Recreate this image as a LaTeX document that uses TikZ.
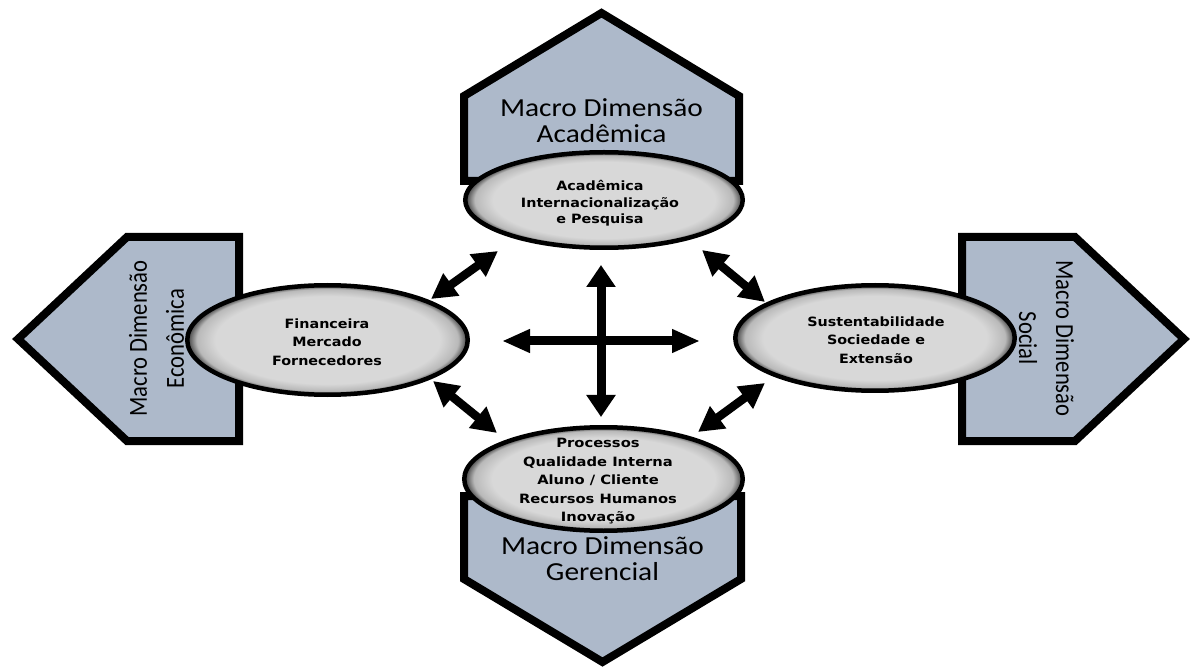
\documentclass[tikz,border=0pt]{standalone}
\usepackage{fontspec}
\usepackage{graphicx}
\setmainfont{Carlito}
\newfontfamily\ellfont{DejaVu Sans}
\usetikzlibrary{arrows.meta,shapes.geometric}
\definecolor{pentafill}{RGB}{173,185,202}
\definecolor{ellA}{RGB}{216,216,216}
\definecolor{ellB}{RGB}{185,185,185}
\definecolor{ellC}{RGB}{60,60,60}
\pgfdeclareradialshading{ellshade}{\pgfpoint{0bp}{0bp}}{color(0bp)=(ellA); color(20bp)=(ellA); color(23.3bp)=(ellB); color(25bp)=(ellC); color(50bp)=(ellC)}
\newcommand{\titletext}[3]{\scalebox{#1}[1]{\fontsize{26pt}{#2}\selectfont\begin{tabular}{@{}c@{}}#3\end{tabular}}}
\newcommand{\elltext}[3]{\scalebox{#1}[1]{\ellfont\bfseries\fontsize{12.8pt}{#2}\selectfont\begin{tabular}{@{}c@{}}#3\end{tabular}}}
\begin{document}
\begin{tikzpicture}[x=1pt,y=-1pt,
  pentastyle/.style={draw=black, line width=8pt, fill=pentafill, line join=miter},
  ell/.style={ellipse, draw=black, line width=4.5pt, shade, shading=ellshade, inner sep=0pt},
  txt/.style={inner sep=0pt, text=black},
  diag/.style={line width=8.5pt, {Triangle[length=25pt,width=26pt]}-{Triangle[length=25pt,width=26pt]}},
  horiz/.style={line width=9pt, {Triangle[length=28pt,width=22pt]}-{Triangle[length=28pt,width=22pt]}},
  vert/.style={line width=9pt, {Triangle[length=22pt,width=28pt]}-{Triangle[length=22pt,width=28pt]}}]
\useasboundingbox (0,0) rectangle (1192,668);
\fill[white] (0,0) rectangle (1192,668);
% pentagons
\draw[pentastyle] (464,181) -- (464,96) -- (601.5,13) -- (739,96) -- (739,181) -- cycle;
\draw[pentastyle] (464,496) -- (741,496) -- (741,579) -- (602.5,662) -- (464,579) -- cycle;
\draw[pentastyle] (239,237) -- (239,441) -- (127,441) -- (18,339) -- (127,237) -- cycle;
\draw[pentastyle] (962,237) -- (1075,237) -- (1184,339) -- (1075,441) -- (962,441) -- cycle;
% titles
\node[txt] (tA) at (601.5,124.5) {\titletext{1.13}{25pt}{Macro Dimensão\\Acadêmica}};
\node[txt] (tG) at (602.5,562.5) {\titletext{1.13}{25pt}{Macro Dimensão\\Gerencial}};
\node[txt, rotate=90] (tE) at (158,338.5) {\titletext{0.87}{37pt}{Macro Dimensão\\Econômica}};
\node[txt, rotate=-90] (tS) at (1045,338.5) {\titletext{0.87}{37pt}{Macro Dimensão\\Social}};
% ellipses
\node[ell, minimum width=277.5pt, minimum height=95.5pt] (eA) at (604,200) {};
\node[ell, minimum width=280.5pt, minimum height=109.5pt] (eE) at (327.5,340) {};
\node[ell, minimum width=279.5pt, minimum height=105.5pt] (eS) at (875,338) {};
\node[ell, minimum width=278.5pt, minimum height=103.5pt] (eG) at (603.5,479) {};
\node[txt] (xA) at (600,204) {\elltext{1.12}{16.5pt}{Acadêmica\\Internacionalização\\e Pesquisa}};
\node[txt] (xE) at (327,343) {\elltext{1.12}{18.5pt}{Financeira\\Mercado\\Fornecedores}};
\node[txt] (xS) at (876,341) {\elltext{1.12}{18.5pt}{Sustentabilidade\\Sociedade e\\Extensão}};
\node[txt] (xG) at (598,481) {\elltext{1.15}{18.5pt}{Processos\\Qualidade Interna\\Aluno / Cliente\\Recursos Humanos\\Inovação}};
% arrow ends
\coordinate (a1s) at (498,251); \coordinate (a1e) at (431,299);
\coordinate (a2s) at (702,250); \coordinate (a2e) at (765,302);
\coordinate (a3s) at (433,381); \coordinate (a3e) at (497,433);
\coordinate (a4s) at (765,383); \coordinate (a4e) at (698,432);
\coordinate (hL) at (502,341); \coordinate (hR) at (700,341);
\coordinate (vT) at (601,265); \coordinate (vB) at (601,417);
\draw[diag] (a1s) -- (a1e);
\draw[diag] (a2s) -- (a2e);
\draw[diag] (a3s) -- (a3e);
\draw[diag] (a4s) -- (a4e);
\draw[horiz] (hL) -- (hR);
\draw[vert] (vT) -- (vB);
\end{tikzpicture}
\end{document}
